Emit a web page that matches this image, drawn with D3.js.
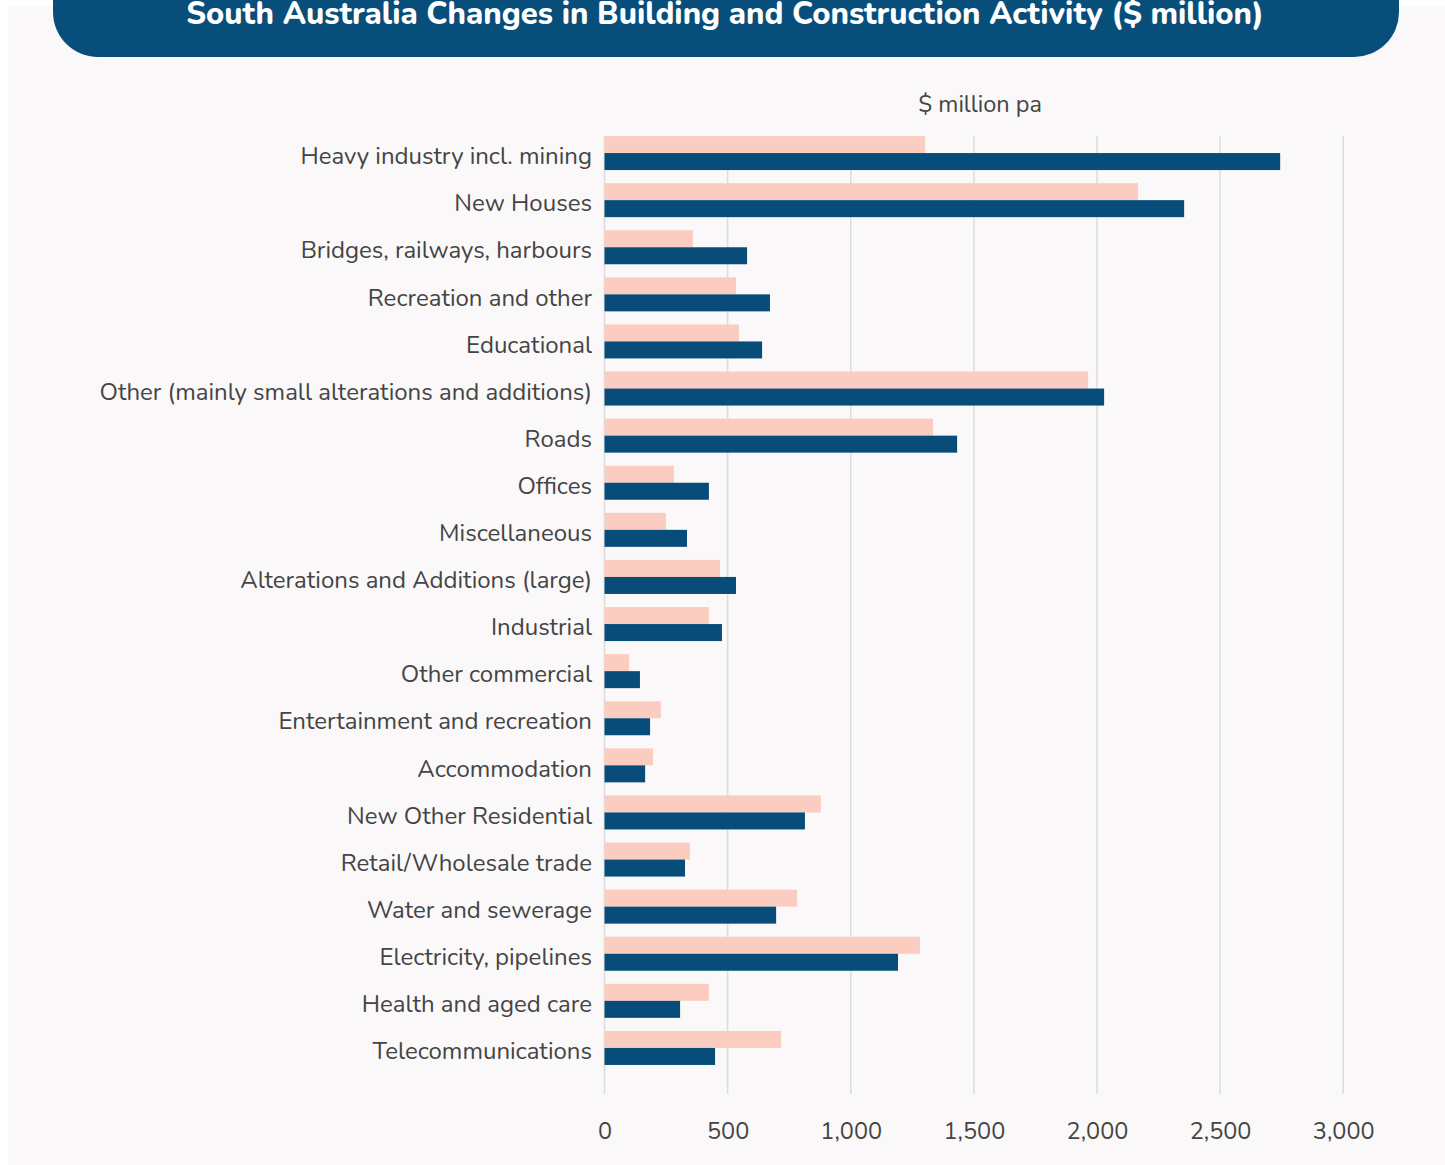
<!DOCTYPE html>
<html>
<head>
<meta charset="utf-8">
<script src="https://cdn.jsdelivr.net/npm/d3@7"></script>
<style>
  html, body { margin: 0; padding: 0; background: #ffffff; }
  svg { display: block; }
  text { font-family: "Nunito", "Lato", "Open Sans", sans-serif; }
</style>
</head>
<body>
<svg id="chart" width="1445" height="1165"></svg>
<script>
const categories = [
  "Heavy industry incl. mining",
  "New Houses",
  "Bridges, railways, harbours",
  "Recreation and other",
  "Educational",
  "Other (mainly small alterations and additions)",
  "Roads",
  "Offices",
  "Miscellaneous",
  "Alterations and Additions (large)",
  "Industrial",
  "Other commercial",
  "Entertainment and recreation",
  "Accommodation",
  "New Other Residential",
  "Retail/Wholesale trade",
  "Water and sewerage",
  "Electricity, pipelines",
  "Health and aged care",
  "Telecommunications"
];
const seriesNames = ["Previous", "Current"];
const previousValues = [1302, 2167, 359, 534, 546, 1964, 1334, 282, 250, 469, 424, 100, 229, 197, 879, 347, 782, 1281, 424, 717];
const currentValues  = [2744, 2354, 579, 672, 640, 2029, 1432, 424, 335, 534, 477, 144, 185, 165, 814, 327, 697, 1192, 307, 449];
const tickValues = [0, 500, 1000, 1500, 2000, 2500, 3000];
const titleText = "South Australia Changes in Building and Construction Activity ($ million)";
const axisTitle = "$ million pa";

const colors = { Previous: "#fbcdc1", Current: "#084d79" };
const fontStack = '"Nunito", "Lato", "Open Sans", sans-serif';

const svg = d3.select("#chart");
const W = 1445, H = 1165;

// panel background
svg.append("rect").attr("x", 8).attr("y", 6).attr("width", W - 8).attr("height", H - 6).attr("fill", "#faf8f9");

// title banner
svg.append("rect").attr("x", 53).attr("y", -60).attr("width", 1346).attr("height", 117)
  .attr("rx", 45).attr("ry", 45).attr("fill", "#074e7b");
svg.append("text").attr("x", 725).attr("y", 24).attr("text-anchor", "middle")
  .attr("fill", "#ffffff").attr("font-size", 31).attr("font-weight", 800)
  .text(titleText);

const x = d3.scaleLinear().domain([0, 3000]).range([604.5, 1343.2]);
const y = d3.scaleBand().domain(categories).range([129.5, 1071.5]).paddingInner(0.278).paddingOuter(0.139);
const ySub = d3.scaleBand().domain(seriesNames).range([0, y.bandwidth()]).padding(0);

// gridlines
svg.append("g").selectAll("line").data(tickValues).join("line")
  .attr("x1", d => x(d)).attr("x2", d => x(d))
  .attr("y1", 136).attr("y2", 1094)
  .attr("stroke", "#dcdcdc").attr("stroke-width", 1.5);

// axis (labels only)
const axis = d3.axisBottom(x).tickValues(tickValues).tickFormat(d3.format(",")).tickSize(0).tickPadding(0);
const gx = svg.append("g").attr("transform", "translate(0,1122)").call(axis);
gx.select(".domain").remove();
gx.selectAll("text").attr("font-size", 23.5).attr("fill", "#444444")
  .style("font-family", fontStack);

// axis title
svg.append("text").attr("x", 980).attr("y", 112).attr("text-anchor", "middle")
  .attr("fill", "#444444").attr("font-size", 23.5).text(axisTitle);

// bars
const rows = categories.map((c, i) => ({ cat: c, vals: [
  { s: "Previous", v: previousValues[i] },
  { s: "Current", v: currentValues[i] }
]}));
const groups = svg.append("g").selectAll("g").data(rows).join("g")
  .attr("transform", d => `translate(0,${y(d.cat)})`);
groups.selectAll("rect").data(d => d.vals).join("rect")
  .attr("x", x(0)).attr("y", d => ySub(d.s))
  .attr("width", d => x(d.v) - x(0)).attr("height", ySub.bandwidth())
  .attr("fill", d => colors[d.s]);

// category labels
const yAxis = d3.axisLeft(y).tickSize(0).tickPadding(0);
const gy = svg.append("g").attr("transform", "translate(592,3.5)").call(yAxis);
gy.select(".domain").remove();
gy.selectAll("text").attr("font-size", 24).attr("fill", "#444444").attr("dy", "0.32em")
  .style("font-family", fontStack);
</script>
</body>
</html>
